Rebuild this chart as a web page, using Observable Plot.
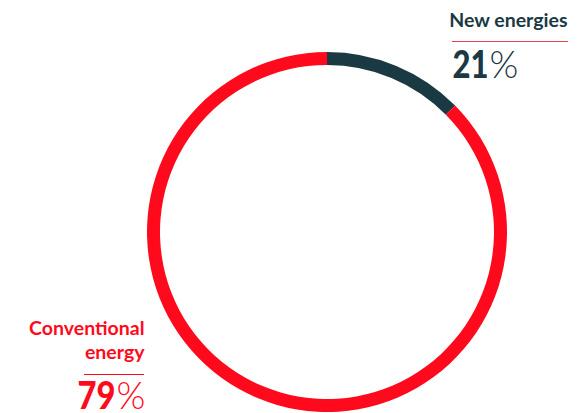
<!DOCTYPE html>
<html><head><meta charset="utf-8">
<script src="https://cdn.jsdelivr.net/npm/d3@7"></script>
<script src="https://cdn.jsdelivr.net/npm/@observablehq/plot@0.6"></script>
<style>body{margin:0;background:#fff}</style>
</head><body><div id="chart"></div>
<script>
// ---- data ----
const categories = ["New energies", "Conventional energy"];
const categoryLines = ["New energies", "Conventional\nenergy"];
const shareLabels = ["21", "79"];          // printed percentages
const arcShares = [12.6, 87.4];            // arc sizes as drawn in the picture
const colors = ["#1b3943", "#ff0a1c"];

// ---- layout ----
const W = 587, H = 413;
const R = 180, CX = 327, CY = 232, THICK = 13;
const numberWidths = [36, 38];

const rows = categories.map((c, i) => ({category: c, lines: categoryLines[i], label: shareLabels[i], arc: arcShares[i], color: colors[i]}));

function ring(index, {x, y}) {
  const cx = x(0), cy = y(0), r = Math.abs(x(1) - x(0));
  const pie = d3.pie().sort(null).value(d => d.arc)(rows);
  const arc = d3.arc().innerRadius(r - THICK).outerRadius(r);
  const g = d3.create("svg:g").attr("transform", `translate(${cx},${cy})`);
  g.selectAll("path").data(pie).join("path").attr("d", arc).attr("fill", d => d.data.color);
  return g.node();
}

function rules() {
  const g = d3.create("svg:g");
  g.append("line").attr("x1", 452).attr("x2", 568).attr("y1", 41.5).attr("y2", 41.5).attr("stroke", "#f0404e").attr("stroke-width", 1.2);
  g.append("line").attr("x1", 84).attr("x2", 144).attr("y1", 374.5).attr("y2", 374.5).attr("stroke", colors[1]).attr("stroke-width", 1.2);
  return g.node();
}

const font = "Lato";
const chart = Plot.plot({
  width: W, height: H, margin: 0,
  x: {domain: [-CX / R, (W - CX) / R], axis: null},
  y: {domain: [-(H - CY) / R, CY / R], axis: null},
  style: {fontFamily: font, background: "#fff"},
  marks: [
    Plot.dot([{x: 0, y: 0}], {x: "x", y: "y", r: 0}),
    ring,
    rules,
    // New energies
    Plot.text([rows[0]], {text: "lines", frameAnchor: "top-left", dx: 567, dy: 26, textAnchor: "end", lineAnchor: "bottom", fontSize: 19.5, fontWeight: 700, fill: d => d.color}),
    Plot.text([rows[0]], {text: "label", frameAnchor: "top-left", dx: 488, dy: 77, textAnchor: "end", lineAnchor: "bottom", fontSize: 38.5, fontWeight: 900, fill: d => d.color}),
    Plot.text([rows[0]], {text: () => "%", frameAnchor: "top-left", dx: 489, dy: 77, textAnchor: "start", lineAnchor: "bottom", fontSize: 37, fontWeight: 300, fill: d => d.color}),
    // Conventional energy
    Plot.text([rows[1]], {text: "lines", frameAnchor: "top-left", dx: 144, dy: 358, textAnchor: "end", lineAnchor: "bottom", lineHeight: 1.2, fontSize: 19.5, fontWeight: 700, fill: d => d.color}),
    Plot.text([rows[1]], {text: "label", frameAnchor: "top-left", dx: 115, dy: 408, textAnchor: "end", lineAnchor: "bottom", fontSize: 38.5, fontWeight: 900, fill: d => d.color}),
    Plot.text([rows[1]], {text: () => "%", frameAnchor: "top-left", dx: 116, dy: 408, textAnchor: "start", lineAnchor: "bottom", fontSize: 37, fontWeight: 300, fill: d => d.color})
  ]
});
document.getElementById("chart").append(chart);
// condense the big numbers (horizontal scale about their right-hand anchor)
chart.querySelectorAll("text").forEach(t => {
  const i = shareLabels.indexOf(t.textContent);
  if (i >= 0) {
    const natural = t.getComputedTextLength();
    const sx = numberWidths[i] / natural;
    const x0 = +(t.getAttribute("x") || 0);
    const prev = t.getAttribute("transform") || "";
    t.setAttribute("transform", `${prev} translate(${x0},0) scale(${sx},1) translate(${-x0},0)`.trim());
  }
});
</script>
</body></html>
